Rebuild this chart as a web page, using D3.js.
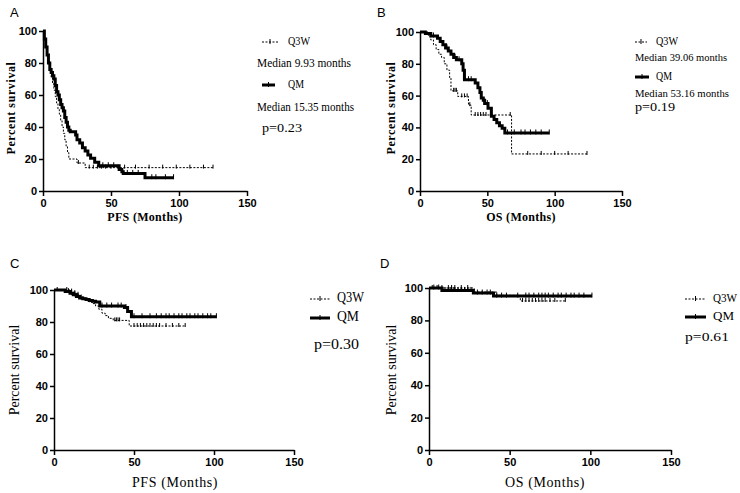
<!DOCTYPE html>
<html><head><meta charset="utf-8">
<script src="https://cdn.jsdelivr.net/npm/d3@7/dist/d3.min.js"></script>
<style>
body{margin:0;background:#fff;}
svg{display:block;}
.tick text{font-family:"Liberation Sans",Arial,sans-serif;font-weight:bold;font-size:11px;fill:#000;}
.domain,.tick line{stroke:#000;stroke-width:1.5px;}
</style></head>
<body>
<svg id="chart" width="740" height="493"></svg>
<script>
// ---- Data ----
const xTicks = [0, 50, 100, 150];
const yTicks = [0, 20, 40, 60, 80, 100];
const seriesNames = ["Q3W", "QM"];

// Panel A: PFS
const A_Q3W_t = [0,1,2,3,4,5,6,7,8,9,10,11,12,13,14,15,16,17,18,19,25,31,125];
const A_Q3W_s = [100,95,90,85,80,75,71,67,63,59,55,51,48,44,40,36,32,28,24,20,17.5,14.6,14.6];
const A_Q3W_c = [26,34,37,40,43,46,50,55,60,68,78,88,98,108,118,125];
const A_QM_t = [0,1,2,3,4,5,6,7,8,9,10,11,12,13,14,15,16,17,18,19,20,24,25,27,29,31,33,35,38,41,56,58,59,75,96];
const A_QM_s = [100,95,90,85,80,76,74,72,70,66,62,60,57,54,52,50,46,43,40,38,37,35,32,30,27,25,22.5,20.5,18,15.8,13.5,12,11,8.3,8.3];
const A_QM_c = [44,48,52,62,66,70,80,83,90,96];

// Panel B: OS
const B_Q3W_t = [0,6,8,10,12,14,16,18,20,22,23,28,36,38,68,124];
const B_Q3W_s = [100,98,95,92,89,86,84,80,76,71,63,59.5,54,47.8,23.3,23.3];
const B_Q3W_c = [25,26,27,31,33,35,37,41,43,45,47,49,67,80,90,100,110,124];
const B_QM_t = [0,4,8,13,15,17,19,21,23,25,27,31,32,33,41,43,44.5,45.5,47,48,50.5,53,55,57,59,61,63,96];
const B_QM_s = [100,99,97.5,96,94,92,90,88,86,84,82.5,80,76,70,68,65,62,58.5,57,55,52,47,45,43,41,39.5,36.5,36.5];
const B_QM_c = [10,20,26,29,36,38,50,65,70,75,78,82,86,90,96];

// Panel C: PFS
const C_Q3W_t = [0,10,12,14,16,18,20,22,24,26,28,30,32,34,37,47,82];
const C_Q3W_s = [100,99,98,97,96,95,94,92.5,91.5,90,88,85.5,84,82.3,81,77.5,77.5];
const C_Q3W_c = [2,8,11,13,15,38,39,40,41,50,52,54,56,58,60,62,64,66,70,74,78,82];
const C_QM_t = [0,7,10,12,14,16,18,20,22,24,26,28.6,44,46,48.4,101.5];
const C_QM_s = [100,99,98,97,96,95,94.5,94,93.5,93,92.5,90,89,86.5,83.3,83.3];
const C_QM_c = [9,11,13,15,17,30,33,36,40,42,45,50,55,60,64,67,70,72,75,78,80,83,85,88,90,93,96,98,101.5];

// Panel D: OS
const D_Q3W_t = [0,28,42,56.6,84.5];
const D_Q3W_s = [100,97.5,95.5,92,92];
const D_Q3W_c = [2,5,8,12,14,16,20,24,58,60,62,64,66,68,70,72,75,78,84.5];
const D_QM_t = [0,8,27.5,40,101];
const D_QM_s = [100,98.5,96.9,95,95];
const D_QM_c = [3,6,10,12,13,14,15,16,18,20,22,24,26,30,33,36,38,42,45,48,55,60,62,65,68,70,72,74,77,80,82,85,88,90,93,96,101];

const panelLetters = ["A","B","C","D"];
const xTitles = ["PFS (Months)","OS (Months)","PFS (Months)","OS (Months)"];
const legendNotes = [
  ["Median 9.93 months","Median 15.35 months","p=0.23"],
  ["Median 39.06 months","Median 53.16 months","p=0.19"],
  ["","","p=0.30"],
  ["","","p=0.61"]
];

// ---- Layout ----
const svg = d3.select("#chart");
const panels = [
  {x0:43,x1:247,y0:191,y1:31, letter:[10,17], yt:[12,108], xt:[145,221], bold:true,
   data:[[A_Q3W_t,A_Q3W_s,A_Q3W_c],[A_QM_t,A_QM_s,A_QM_c]],
   leg:{lx:262, ly:[42,85], tx:288, lw:[16,13], nameW:[22,16], nfs:12,
        notes:[[257,67,94],[257,111,97],[262,132,40]], fs:12.5}},
  {x0:420,x1:622,y0:191,y1:32, letter:[377,17], yt:[392,108], xt:[521,221], bold:true,
   data:[[B_Q3W_t,B_Q3W_s,B_Q3W_c],[B_QM_t,B_QM_s,B_QM_c]],
   leg:{lx:635, ly:[42,77], tx:656, lw:[12,14], nameW:[22,16], nfs:11,
        notes:[[635,61,92],[635,97,94],[635,111,40]], fs:12.5}},
  {x0:54,x1:294,y0:450,y1:290, letter:[10,268], yt:[16,370], xt:[175,487], bold:false,
   data:[[C_Q3W_t,C_Q3W_s,C_Q3W_c],[C_QM_t,C_QM_s,C_QM_c]],
   leg:{lx:310, ly:[299,318], tx:337, lw:[20,20], nameW:[27,22], nfs:14,
        notes:[null,null,[314,349,45]], fs:14}},
  {x0:429,x1:671,y0:450,y1:288, letter:[380,268], yt:[393,370], xt:[545,487], bold:false,
   data:[[D_Q3W_t,D_Q3W_s,D_Q3W_c],[D_QM_t,D_QM_s,D_QM_c]],
   leg:{lx:685, ly:[299,317], tx:713, lw:[21,21], nameW:[24,21], nfs:12.5,
        notes:[null,null,[685,341,44]], fs:12.5}}
];

const styles = [
  {w:1, dash:"2,1.5", tick:4},
  {w:3, dash:null, tick:5}
];

panels.forEach((p,i)=>{
  const x = d3.scaleLinear().domain([0,150]).range([p.x0,p.x1]);
  const y = d3.scaleLinear().domain([0,100]).range([p.y0,p.y1]);
  const g = svg.append("g");

  g.append("g").attr("transform",`translate(0,${p.y0})`)
    .call(d3.axisBottom(x).tickValues(xTicks).tickSize(5).tickSizeOuter(0).tickPadding(3));
  g.append("g").attr("transform",`translate(${p.x0},0)`)
    .call(d3.axisLeft(y).tickValues(yTicks).tickSize(4).tickSizeOuter(0).tickPadding(2));

  g.append("text").attr("x",p.letter[0]).attr("y",p.letter[1])
    .attr("font-family","Liberation Sans, Arial, sans-serif").attr("font-size",13).text(panelLetters[i]);

  g.append("text").attr("transform",`translate(${p.yt[0]},${p.yt[1]}) rotate(-90)`)
    .attr("text-anchor","middle").attr("dominant-baseline","middle")
    .attr("font-family","Liberation Serif, Times New Roman, serif")
    .attr("font-weight",p.bold?"bold":"normal").attr("font-size",p.bold?12:14)
    .attr("letter-spacing",p.bold?0.6:0).text("Percent survival");
  g.append("text").attr("x",p.xt[0]).attr("y",p.xt[1])
    .attr("text-anchor","middle")
    .attr("font-family","Liberation Serif, Times New Roman, serif")
    .attr("font-weight",p.bold?"bold":"normal").attr("font-size",p.bold?12:14)
    .attr("letter-spacing",p.bold?0.3:0.6).text(xTitles[i]);

  const line = d3.line().x(d=>x(d[0])).y(d=>y(d[1])).curve(d3.curveStepAfter);
  p.data.forEach((ser,si)=>{
    const [ts,ss,cs] = ser;
    const pts = ts.map((t,k)=>[t,ss[k]]);
    const st = styles[si];
    g.append("path").datum(pts).attr("d",line).attr("fill","none")
      .attr("stroke","#000").attr("stroke-width",st.w)
      .attr("stroke-dasharray",st.dash);
    const survAt = t => { let v=ss[0]; for(let k=0;k<ts.length;k++){ if(ts[k]<=t) v=ss[k]; } return v; };
    g.selectAll(null).data(cs).enter().append("line")
      .attr("x1",d=>x(d)).attr("x2",d=>x(d))
      .attr("y1",d=>y(survAt(d))-st.tick/2-1).attr("y2",d=>y(survAt(d))+st.tick/2-1)
      .attr("stroke","#000").attr("stroke-width",1);
  });

  const L = p.leg;
  seriesNames.forEach((nm,si)=>{
    const st = styles[si];
    const ly = L.ly[si];
    const w = L.lw[si];
    g.append("line").attr("x1",L.lx).attr("x2",L.lx+w).attr("y1",ly).attr("y2",ly)
      .attr("stroke","#000").attr("stroke-width",st.w).attr("stroke-dasharray",st.dash);
    const mx = L.lx + w/2;
    g.append("line").attr("x1",mx).attr("x2",mx).attr("y1",ly-3).attr("y2",ly+2)
      .attr("stroke","#000").attr("stroke-width",1);
    g.append("text").attr("x",L.tx).attr("y",ly).attr("dominant-baseline","middle")
      .attr("font-family","Liberation Serif, Times New Roman, serif").attr("font-size",L.fs)
      .attr("textLength",L.nameW[si]).attr("lengthAdjust","spacingAndGlyphs").text(nm);
  });
  L.notes.forEach((pos,ni)=>{
    if(!pos) return;
    g.append("text").attr("x",pos[0]).attr("y",pos[1])
      .attr("font-family","Liberation Serif, Times New Roman, serif")
      .attr("font-size", ni===2 ? L.fs+1 : L.nfs)
      .attr("textLength",pos[2]).attr("lengthAdjust","spacingAndGlyphs")
      .text(legendNotes[i][ni]);
  });
});
</script>
</body></html>
